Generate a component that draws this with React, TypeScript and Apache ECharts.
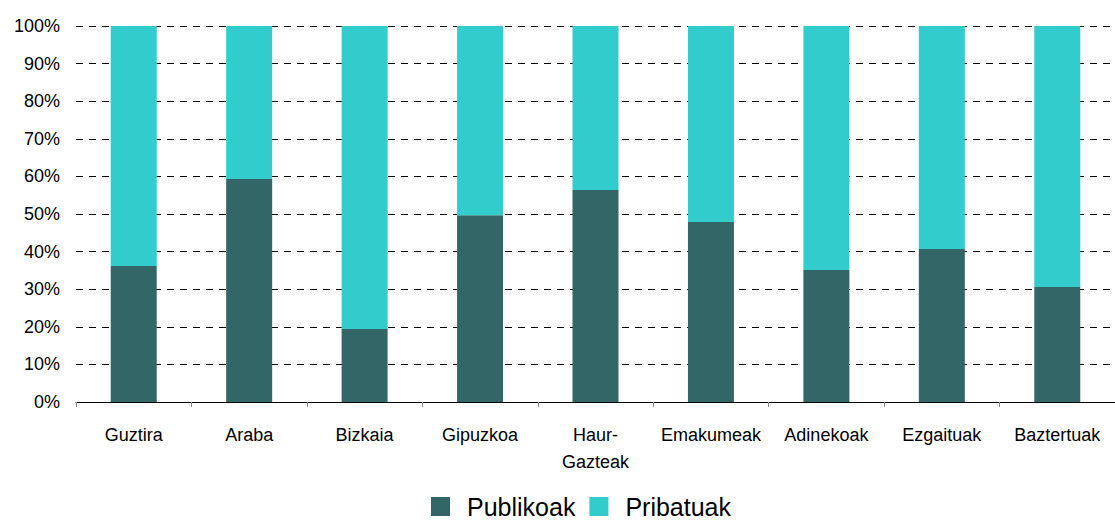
import React, { useEffect, useRef } from "react";
import * as echarts from "echarts";

const categories = ["Guztira", "Araba", "Bizkaia", "Gipuzkoa", "Haur-\nGazteak", "Emakumeak", "Adinekoak", "Ezgaituak", "Baztertuak"];
const publikoak = [36.2, 59.3, 19.4, 49.7, 56.4, 47.9, 35.1, 40.7, 30.6];
const pribatuak = [63.8, 40.7, 80.6, 50.3, 43.6, 52.1, 64.9, 59.3, 69.4];

export default function App() {
  const ref = useRef<HTMLDivElement>(null);
  useEffect(() => {
    if (!ref.current) return;
    const chart = echarts.init(ref.current, null, { renderer: "svg" });
    const font = "Liberation Sans, Arial, sans-serif";
    chart.setOption({
      animation: false,
      grid: { left: 76, top: 26, width: 1044, height: 376, containLabel: false },
      legend: {
        data: ["Publikoak", "Pribatuak"],
        top: 489,
        left: 426,
        icon: "rect",
        itemWidth: 19,
        itemHeight: 19,
        itemGap: 14,
        textStyle: { fontFamily: font, fontSize: 25, color: "#000", padding: [0, 0, 0, 12], width: 116 },
      },
      xAxis: {
        type: "category",
        data: categories,
        axisLine: { lineStyle: { color: "#000", width: 1 } },
        axisTick: { show: true, length: 5, lineStyle: { color: "#888" } },
        axisLabel: { fontFamily: font, fontSize: 18, color: "#000", margin: 19, lineHeight: 27, interval: 0 },
      },
      yAxis: {
        type: "value",
        min: 0,
        max: 100,
        interval: 10,
        axisLine: { show: false },
        axisTick: { show: false },
        axisLabel: { formatter: "{value}%", fontFamily: font, fontSize: 18, color: "#000", margin: 16 },
        splitLine: { lineStyle: { color: "#000", type: [7, 6], width: 1 } },
      },
      series: [
        {
          name: "Publikoak",
          type: "bar",
          stack: "a",
          data: publikoak,
          barWidth: 46,
          itemStyle: { color: "#336666" },
        },
        {
          name: "Pribatuak",
          type: "bar",
          stack: "a",
          data: pribatuak,
          barWidth: 46,
          itemStyle: { color: "#33CCCC" },
        },
      ],
    });
    return () => chart.dispose();
  }, []);
  return <div ref={ref} style={{ width: 1115, height: 520, position: "absolute", left: 0, top: 0 }} />;
}
